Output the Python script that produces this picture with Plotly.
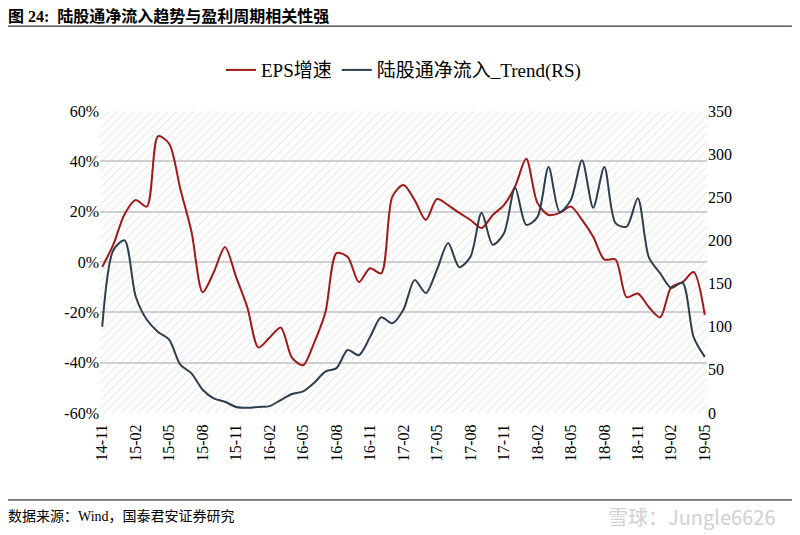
import base64
import plotly.graph_objects as go

months = []
y, m = 2014, 11
for i in range(55):
    months.append(f"{y % 100:02d}-{m:02d}")
    m += 1
    if m > 12:
        m = 1
        y += 1

eps_growth = [-2, 7, 19, 24.6, 22, 50, 47, 29, 12, -12, -4, 6, -6, -18, -34, -30, -26, -38, -41, -32,
              -20, 3.5, 2, -8, -2.5, -4.5, 26, 30.6, 24.6, 16.7, 25, 22.6, 19.5, 16.7, 13.5, 18.7, 22.6,
              30, 41, 23.5, 18.7, 19.5, 22, 16.7, 10, 1, 1, -14, -12.5, -18, -22, -10, -8, -4, -21]
flow_trend = [100, 189, 200, 135, 108, 94, 85, 56, 46, 27, 17, 13, 7, 6, 7, 8, 15, 22, 25, 35,
              48, 52, 73, 67, 88, 111, 104, 120, 154, 139, 166, 197, 169, 181, 232, 195, 208, 261,
              218, 227, 285, 233, 247, 293, 238, 285, 220, 216, 249, 180, 162, 145, 151, 88, 65]
tick_labels = months[::3]

svg = ('<svg xmlns="http://www.w3.org/2000/svg" width="607" height="302">'
       '<defs><pattern id="p" width="6" height="6" patternUnits="userSpaceOnUse" patternTransform="rotate(45)">'
       '<line x1="0" y1="0" x2="0" y2="6" stroke="#e2e2e2" stroke-width="1.5"/></pattern></defs>'
       '<rect width="607" height="302" fill="white"/><rect width="607" height="302" fill="url(#p)"/></svg>')
uri = "data:image/svg+xml;base64," + base64.b64encode(svg.encode()).decode()

serif = "Liberation Serif, Noto Sans CJK SC"
fig = go.Figure()
fig.add_trace(go.Scatter(x=months, y=eps_growth, name="EPS增速", mode="lines",
                         line=dict(color="#A01818", width=2, shape="spline", smoothing=0.8)))
fig.add_trace(go.Scatter(x=months, y=flow_trend, name="陆股通净流入_Trend(RS)", mode="lines", yaxis="y2",
                         line=dict(color="#2E3D4F", width=2, shape="spline", smoothing=0.8)))

fig.update_layout(
    width=800, height=535, paper_bgcolor="white", plot_bgcolor="rgba(0,0,0,0)",
    margin=dict(l=92, r=101, t=103, b=130, autoexpand=False),
    font=dict(family=serif, size=16, color="black"),
    images=[dict(source=uri, xref="paper", yref="paper", x=0, y=1, sizex=1, sizey=1,
                 sizing="stretch", layer="below", xanchor="left", yanchor="top")],
    xaxis=dict(type="category", tickvals=tick_labels, ticktext=tick_labels, tickangle=-90,
               showgrid=False, showline=False, ticks="outside", ticklen=4, tickcolor="rgba(0,0,0,0)",
               tickfont=dict(size=16), range=[-0.2, 54.2], automargin=False),
    yaxis=dict(range=[-60, 60], tickvals=[-60, -40, -20, 0, 20, 40, 60],
               ticktext=["-60%", "-40%", "-20%", "0%", "20%", "40%", "60%"],
               gridcolor="#cfcfcf", gridwidth=2, zeroline=False, showline=False,
               tickfont=dict(size=16), automargin=False),
    yaxis2=dict(range=[0, 350], dtick=50, overlaying="y", side="right", showgrid=False,
                zeroline=False, tickfont=dict(size=16), automargin=False),
    legend=dict(orientation="h", x=0.5, xanchor="center", yref="container", y=0.884, yanchor="middle",
                font=dict(size=19), bgcolor="rgba(0,0,0,0)"),
    showlegend=True,
    shapes=[dict(type="line", xref="paper", yref="paper", x0=-0.165, x1=1.14, y0=1.281, y1=1.281,
                 line=dict(color="black", width=1)),
            dict(type="line", xref="paper", yref="paper", x0=-0.165, x1=1.14, y0=-0.288, y1=-0.288,
                 line=dict(color="black", width=1))],
    annotations=[
        dict(text="<b>图 24:  陆股通净流入趋势与盈利周期相关性强</b>", xref="paper", yref="paper",
             x=-0.155, y=1.315, xanchor="left", yanchor="middle", showarrow=False,
             font=dict(size=16, family=serif)),
        dict(text="数据来源：Wind，国泰君安证券研究", xref="paper", yref="paper",
             x=-0.155, y=-0.344, xanchor="left", yanchor="middle", showarrow=False,
             font=dict(size=14, family=serif)),
        dict(text="雪球：Jungle6626", xref="paper", yref="paper",
             x=1.115, y=-0.344, xanchor="right", yanchor="middle", showarrow=False,
             font=dict(size=20, color="#d0d0d0", family="Noto Sans CJK SC")),
    ],
)
fig.write_html("out.html")
